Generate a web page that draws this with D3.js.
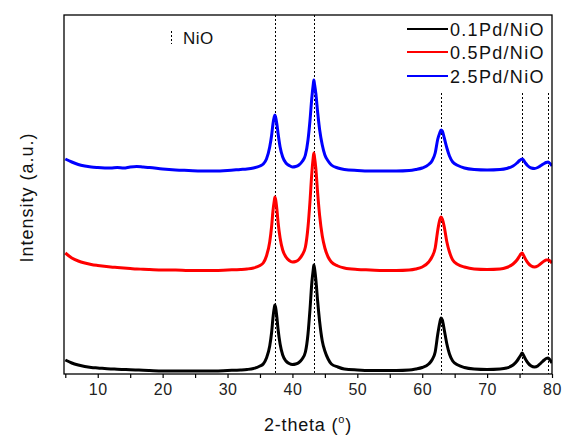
<!DOCTYPE html>
<html>
<head>
<meta charset="utf-8">
<script src="https://cdn.jsdelivr.net/npm/d3@7"></script>
<style>
  html, body { margin: 0; padding: 0; background: #fff; }
  text { font-family: Arial, "Liberation Sans", sans-serif; }
</style>
</head>
<body>
<svg id="chart" width="577" height="440"></svg>
<script>
// 2-theta sampling positions (degrees)
const twoTheta = [5,6,7,8,9,10,12,13,14,15,16,17,18,20,22,24,26,28,30,32,33,34,35,35.5,36,36.5,36.8,37.0,37.2,37.3,37.4,37.6,37.8,38.1,38.5,39,39.5,40,40.5,41,41.5,42,42.4,42.7,43.0,43.2,43.3,43.4,43.6,43.9,44.2,44.6,45,45.5,46,47,48,50,52,54,56,58,59,60,61,61.5,62,62.4,62.7,62.9,63.1,63.4,63.8,64.2,64.7,65.5,66.5,68,70,72,73,74,74.6,75,75.2,75.4,75.6,75.9,76.3,76.8,77.3,77.8,78.3,78.8,79.1,79.4,79.7,80];

// Intensity (a.u., stacked with offsets as in the figure)
const pd01 = [14,11,9,7.5,6.5,6,5,4.8,4.5,4.2,4,3.8,3.5,3,3,3,3,3,3.5,4,4.5,5.5,8,10,16,28,42,56,66,69,67,57,44,30,19,13,10.5,9.5,10,11.5,15,22,40,64,92,104,109,106,95,72,52,33,23,15,10,7,5,4,3.5,3.5,3.5,4,5,6.5,10,14,22,40,51,56,54,44,30,20,13,9,6.5,5,4.5,5,6,9,13,17,19,21,19,15,11,8,7,8,11,14,15.5,16,14,11];
const pd05 = [121,116,113,111,109.5,108.5,107,106.5,106,105.5,105,104.8,104.5,104,104,103.5,103.5,103.5,104,104.5,105,106,108.5,111,118,132,148,163,173,177,175,165,151,136,124,117,113.5,112,112.5,114.5,119,127,147,172,202,216,221,217,206,180,158,138,126,117,112,108,106,104.5,104,103.5,103.5,104,105,107,112,117,126,144,154,157,155,147,132,122,114,109.5,107,105,104.5,105,106.5,110,114,118,120,121,119,115,111,108,107,108,110.5,113,114,114,113,111];
const pd25 = [215,212,209.5,208,207,206.5,206,206.5,206,207,207.5,207,206.5,205,204,203.5,203,203,203.5,204.5,205,206,208,210,215,227,239,250,257,259,257,250,240,227,217,211,208.5,207,207.5,209,212.5,219,234,253,277,289,294,290,281,261,244,229,219,213,209,206,204.5,203.5,203,203,203,203.5,204.5,206,209.5,213,221,235,241,244,243,236,226,218,212,208.5,206,204.5,204,204.5,205.5,208,211,213.5,214.5,215,214,211,208,206,205.5,206.5,208.5,210.5,211.5,212,210.5,208];

const seriesNames = ["0.1Pd/NiO", "0.5Pd/NiO", "2.5Pd/NiO"];
const seriesColors = ["#000000", "#ff0000", "#0000ff"];
const seriesValues = [pd01, pd05, pd25];

// NiO reference peak positions
const nioPeaks = [37.3, 43.3, 62.9, 75.4, 79.4];
const nioFullHeight = [true, true, false, false, false];

const xTicks = [10, 20, 30, 40, 50, 60, 70, 80];
const xMinorTicks = [5, 15, 25, 35, 45, 55, 65, 75];

const svg = d3.select("#chart");
const plot = { left: 64, right: 552, top: 15, bottom: 374 };

const x = d3.scaleLinear().domain([4.8, 80]).range([plot.left, plot.right]);
const y = d3.scaleLinear().domain([0, 359]).range([plot.bottom, plot.top]);

svg.append("defs").append("clipPath").attr("id", "clip")
  .append("rect").attr("x", plot.left).attr("y", plot.top)
  .attr("width", plot.right - plot.left).attr("height", plot.bottom - plot.top);

// NiO reference dotted lines
svg.append("g").selectAll("line").data(nioPeaks).join("line")
  .attr("x1", d => Math.round(x(d)) + 0.5).attr("x2", d => Math.round(x(d)) + 0.5)
  .attr("y1", (d, i) => nioFullHeight[i] ? plot.top : 93)
  .attr("y2", plot.bottom)
  .attr("stroke", "#000").attr("stroke-width", 1).attr("stroke-dasharray", "2,2");

// series
const line = d3.line().x((d, i) => x(twoTheta[i])).y(d => y(d)).curve(d3.curveMonotoneX);
svg.append("g").attr("clip-path", "url(#clip)").selectAll("path").data(seriesValues).join("path")
  .attr("d", d => line(d))
  .attr("fill", "none")
  .attr("stroke", (d, i) => seriesColors[i])
  .attr("stroke-width", 3)
  .attr("stroke-linejoin", "round");

// frame
svg.append("rect").attr("x", plot.left).attr("y", plot.top)
  .attr("width", plot.right - plot.left).attr("height", plot.bottom - plot.top)
  .attr("fill", "none").attr("stroke", "#000").attr("stroke-width", 1.3);

// x axis
const xAxis = d3.axisBottom(x).tickValues(xTicks).tickSize(4).tickPadding(6).tickFormat(d3.format("d"));
const gx = svg.append("g").attr("transform", `translate(0,${plot.bottom})`).call(xAxis);
gx.select(".domain").remove();
gx.selectAll("line").attr("stroke", "#000").attr("stroke-width", 1.2);
gx.selectAll("text").attr("font-size", 16).attr("fill", "#222").attr("letter-spacing", 0.5)
  .attr("font-family", "Arial, 'Liberation Sans', sans-serif");

const xMinor = d3.axisBottom(x).tickValues(xMinorTicks).tickSize(4).tickFormat("");
const gxm = svg.append("g").attr("transform", `translate(0,${plot.bottom})`).call(xMinor);
gxm.select(".domain").remove();
gxm.selectAll("line").attr("stroke", "#000").attr("stroke-width", 1.2);

// axis titles
const xt = svg.append("text").attr("x", (plot.left + plot.right) / 2).attr("y", 431)
  .attr("text-anchor", "middle").attr("font-size", 18).attr("letter-spacing", 0.8).attr("fill", "#111");
xt.append("tspan").text("2-theta (");
xt.append("tspan").attr("font-size", 11).attr("dy", -8).text("o");
xt.append("tspan").attr("dy", 8).text(")");

svg.append("text").attr("transform", `translate(33,${(plot.top + plot.bottom) / 2 + 3}) rotate(-90)`)
  .attr("text-anchor", "middle").attr("font-size", 18).attr("letter-spacing", 1).attr("fill", "#111")
  .text("Intensity (a.u.)");

// legend
const legendY = [29, 52, 76];
const lg = svg.append("g");
seriesNames.forEach((name, i) => {
  lg.append("line").attr("x1", 407).attr("x2", 448).attr("y1", legendY[i]).attr("y2", legendY[i])
    .attr("stroke", seriesColors[i]).attr("stroke-width", 2);
  lg.append("text").attr("x", 450).attr("y", legendY[i] + 6.5).attr("font-size", 18)
    .attr("letter-spacing", 1.3).attr("fill", "#111").text(name);
});

// NiO annotation
svg.append("line").attr("x1", 171.5).attr("x2", 171.5).attr("y1", 31).attr("y2", 44)
  .attr("stroke", "#000").attr("stroke-width", 1).attr("stroke-dasharray", "2,2");
svg.append("text").attr("x", 183).attr("y", 43.5).attr("font-size", 17).attr("letter-spacing", 0.5).attr("fill", "#111").text("NiO");
</script>
</body>
</html>
